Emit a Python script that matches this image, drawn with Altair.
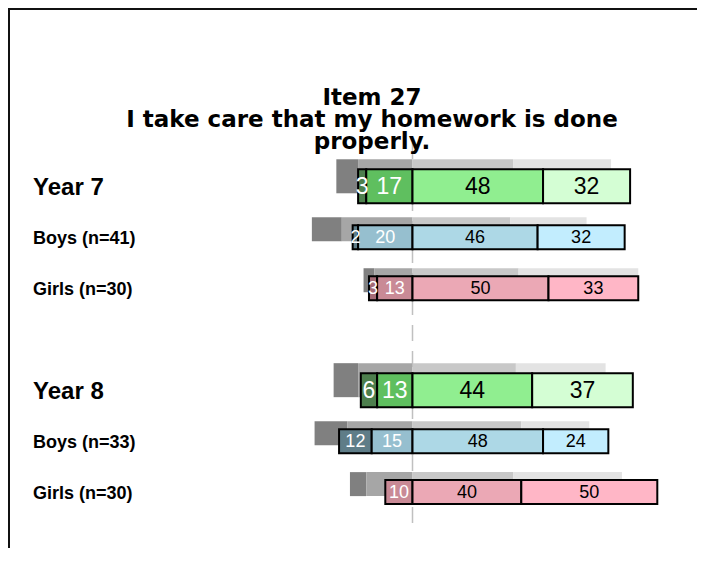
import altair as alt
import pandas as pd

# ---------------- data ----------------
title_lines = ["Item 27", "I take care that my homework is done", "properly."]

row_ids = ["y7", "b7", "g7", "y8", "b8", "g8"]
row_labels = ["Year 7", "Boys (n=41)", "Girls (n=30)", "Year 8", "Boys (n=33)", "Girls (n=30)"]
row_groups = ["year", "boys", "girls", "year", "boys", "girls"]
categories = ["Strongly disagree", "Disagree", "Agree", "Strongly agree"]

# school results (coloured bars)
strongly_disagree = [3, 2, 3, 6, 12, 0]
disagree = [17, 20, 13, 13, 15, 10]
agree = [48, 46, 50, 44, 48, 40]
strongly_agree = [32, 32, 33, 37, 24, 50]

# comparison results (grey shadow bars)
cmp_strongly_disagree = [8, 11, 4, 9, 12, 6]
cmp_disagree = [20, 26, 14, 20, 24, 17]
cmp_agree = [37, 36, 39, 38, 40, 37]
cmp_strongly_agree = [36, 28, 44, 33, 25, 40]

# ---------------- styles ----------------
palette = {
    "year": ["#4d7f4d", "#5fbf5f", "#90ee90", "#d4fed4"],
    "boys": ["#5f7d88", "#96bfcf", "#add8e6", "#c2edfe"],
    "girls": ["#a56b76", "#c98a96", "#eba8b5", "#ffb6c6"],
}
greys = ["#808080", "#a6a6a6", "#c8c8c8", "#e3e3e3"]
FONT = "Liberation Sans"
TITLE_FONT = "DejaVu Sans"

W, H = 689, 540
ZERO_PX, PX_PER = 404.5, 2.72
x_domain = [-ZERO_PX / PX_PER, (W - ZERO_PX) / PX_PER]
band_domain = row_ids[:3] + ["gap"] + row_ids[3:]


def segments(sd, d, a, sa, shadow):
    recs = []
    for i, rid in enumerate(row_ids):
        vals = [sd[i], d[i], a[i], sa[i]]
        bounds = [
            (-(d[i] + sd[i]), -d[i]),
            (-d[i], 0),
            (0, a[i]),
            (a[i], a[i] + sa[i]),
        ]
        for k, cat in enumerate(categories):
            s, e = bounds[k]
            recs.append({
                "row": rid,
                "group": row_groups[i],
                "kind": "year" if row_groups[i] == "year" else "sub",
                "cat": cat,
                "value": vals[k],
                "start": s,
                "end": e,
                "mid": (s + e) / 2,
                "fill": greys[k] if shadow else palette[row_groups[i]][k],
                "tcol": "white" if k < 2 else "black",
            })
    return pd.DataFrame(recs)


main_df = segments(strongly_disagree, disagree, agree, strongly_agree, False)
shadow_df = segments(cmp_strongly_disagree, cmp_disagree, cmp_agree, cmp_strongly_agree, True)
label_df = pd.DataFrame({"row": row_ids, "label": row_labels,
                         "kind": ["year" if g == "year" else "sub" for g in row_groups]})
dummy = pd.DataFrame({"zero": [0]})

xs = alt.Scale(domain=x_domain, nice=False, zero=False)
ys = alt.Scale(domain=band_domain, range=[152.8, 509.6], paddingInner=0, paddingOuter=0)

X = alt.X("start:Q", scale=xs, axis=None)
X2 = alt.X2("end:Q")
Y = alt.Y("row:N", scale=ys, axis=None)
FILL = alt.Color("fill:N", scale=None, legend=None)

zero_line = alt.Chart(dummy).mark_rule(
    color="#c0c0c0", strokeWidth=1.5, strokeDash=[16, 10]
).encode(x=alt.X("zero:Q", scale=xs, axis=None), y=alt.value(135), y2=alt.value(522))

shadow_year = alt.Chart(shadow_df).transform_filter("datum.kind == 'year'").mark_bar(
    height=34, yOffset=-10
).encode(x=X, x2=X2, y=Y, color=FILL)
shadow_sub = alt.Chart(shadow_df).transform_filter("datum.kind == 'sub'").mark_bar(
    height=24, yOffset=-8
).encode(x=X, x2=X2, y=Y, color=FILL)

main_year = alt.Chart(main_df).transform_filter("datum.kind == 'year' && datum.value > 0").mark_bar(
    height=34, stroke="black", strokeWidth=2
).encode(x=X, x2=X2, y=Y, color=FILL)
main_sub = alt.Chart(main_df).transform_filter("datum.kind == 'sub' && datum.value > 0").mark_bar(
    height=24, stroke="black", strokeWidth=2
).encode(x=X, x2=X2, y=Y, color=FILL)

num_year = alt.Chart(main_df).transform_filter("datum.kind == 'year' && datum.value > 0").mark_text(
    font=FONT, fontSize=23, baseline="middle", align="center", dy=1
).encode(x=alt.X("mid:Q", scale=xs, axis=None), y=Y, text="value:Q",
         color=alt.Color("tcol:N", scale=None, legend=None))
num_sub = alt.Chart(main_df).transform_filter("datum.kind == 'sub' && datum.value > 0").mark_text(
    font=FONT, fontSize=18, baseline="middle", align="center", dy=1
).encode(x=alt.X("mid:Q", scale=xs, axis=None), y=Y, text="value:Q",
         color=alt.Color("tcol:N", scale=None, legend=None))

lab_year = alt.Chart(label_df).transform_filter("datum.kind == 'year'").mark_text(
    font=FONT, fontSize=24, fontWeight="bold", align="left", baseline="middle", dy=2, color="black"
).encode(x=alt.value(25), y=Y, text="label:N")
lab_sub = alt.Chart(label_df).transform_filter("datum.kind == 'sub'").mark_text(
    font=FONT, fontSize=18, fontWeight="bold", align="left", baseline="middle", dy=2, color="black"
).encode(x=alt.value(25), y=Y, text="label:N")

title = alt.Chart(dummy).mark_text(
    text=title_lines, font=TITLE_FONT, fontSize=23, fontWeight="bold", lineHeight=22,
    align="center", baseline="top", color="black"
).encode(x=alt.value(364), y=alt.value(79))

frame_top = alt.Chart(dummy).mark_rule(color="#111111", strokeWidth=2).encode(
    x=alt.value(0), x2=alt.value(W), y=alt.value(1))
frame_left = alt.Chart(dummy).mark_rule(color="#111111", strokeWidth=2).encode(
    x=alt.value(1), y=alt.value(0), y2=alt.value(H))

chart = alt.layer(
    zero_line, shadow_year, shadow_sub, main_year, main_sub,
    num_year, num_sub, lab_year, lab_sub, title, frame_top, frame_left
).properties(
    width=W, height=H, padding=0,
    autosize=alt.AutoSizeParams(type="none"),
).configure_view(stroke=None)

chart.save("out.html", embed_options={"renderer": "svg", "actions": False})
